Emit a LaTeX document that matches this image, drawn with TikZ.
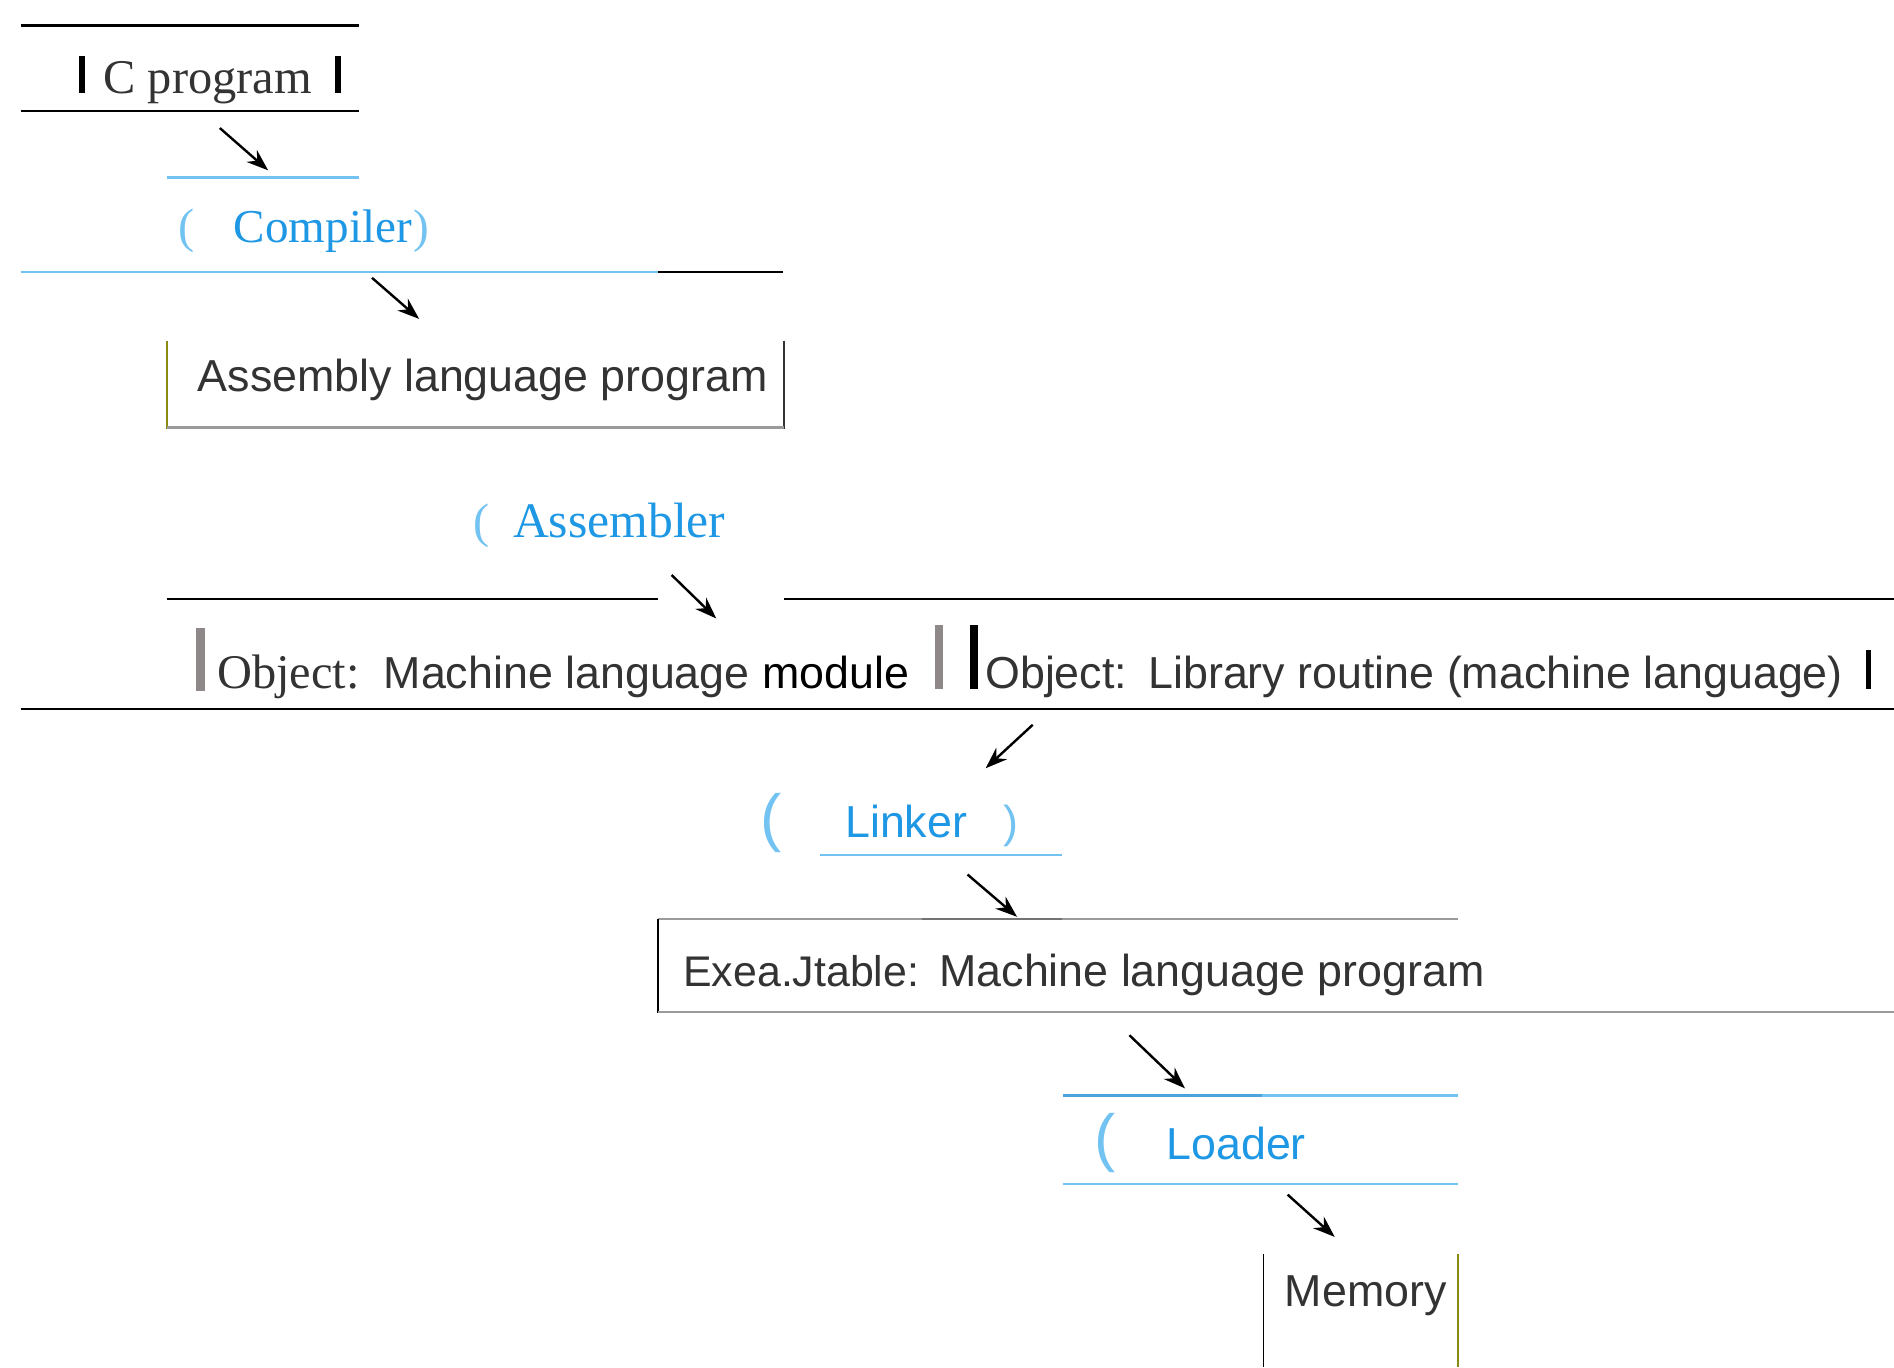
\documentclass[tikz,border=0pt]{standalone}
\usepackage{fontspec}
\setmainfont{Liberation Serif}
\setsansfont{Liberation Sans}
\usetikzlibrary{arrows.meta}
\definecolor{txt}{HTML}{333333}
\definecolor{bluetxt}{HTML}{1E98E4}
\definecolor{lblue}{HTML}{72C2F2}
\definecolor{dblue}{HTML}{4FA3DC}
\definecolor{olivec}{HTML}{8A8A10}
\definecolor{barg}{HTML}{8E8888}
\definecolor{boxg}{HTML}{9A9A9A}
\tikzset{
  sf/.style={inner sep=0pt, anchor=base west, text=txt, font=\fontsize{10.55}{12}\selectfont\sffamily},
  rm/.style={inner sep=0pt, anchor=base west, text=txt, font=\fontsize{11.4}{13}\selectfont\rmfamily},
  blrm/.style={rm, text=bluetxt},
  blsf/.style={sf, text=bluetxt},
  parenrm/.style={inner sep=0pt, anchor=base west, text=lblue, font=\fontsize{11.4}{13}\selectfont\rmfamily},
  parensf/.style={inner sep=0pt, anchor=base west, text=lblue, font=\fontsize{10.55}{12}\selectfont\sffamily},
  bigparen/.style={inner sep=0pt, anchor=base west, text=lblue, font=\fontsize{15}{18}\selectfont\sffamily},
  rulel/.style={line width=0.2mm},
  thinl/.style={line width=0.15mm},
  arr/.style={line width=0.2mm, -{Stealth[length=1.8mm,width=1.3mm]}},
}
\begin{document}
\begin{tikzpicture}[x=0.1mm,y=-0.1mm]
\useasboundingbox[fill=white] (0,0) rectangle (1568,1132);

% C program
\draw[rulel] (17,21) -- (297,21);
\fill[black] (65,46) rectangle (70,77);
\node[rm] (cprog) at (85,77) {C program};
\fill[black] (277,46) rectangle (282,77);
\draw[rulel] (17,92) -- (297,92);
\coordinate (a1s) at (182,106); \coordinate (a1e) at (222,141);
\draw[arr] (a1s) -- (a1e);

% Compiler
\draw[rulel, lblue] (138,147) -- (297,147);
\node[parenrm] (cpl) at (147,201) {(};
\node[blrm, font=\fontsize{11.1}{13}\selectfont\rmfamily] (comp) at (193,201) {Compiler};
\node[parenrm, font=\fontsize{11.1}{13}\selectfont\rmfamily] (cpr) at (comp.base east) {)};
\draw[rulel, lblue] (17,225) -- (545,225);
\draw[rulel] (545,225) -- (648,225);
\coordinate (a2s) at (308,230); \coordinate (a2e) at (347,264);
\draw[arr] (a2s) -- (a2e);

% Assembly language program
\draw[thinl, olivec] (138,282) -- (138,355);
\draw[thinl, txt] (649,282) -- (649,355);
\draw[rulel, boxg] (138,354) -- (649,354);
\node[sf] (asm) at (163,324) {Assembly language program};

% Assembler
\node[parenrm] (apl) at (391,445) {(};
\node[blrm, font=\fontsize{11.7}{13}\selectfont\rmfamily] (assembler) at (424,445) {Assembler};
\draw[rulel] (138,496) -- (545,496);
\draw[rulel] (649,496) -- (1568,496);
\coordinate (a3s) at (556,476); \coordinate (a3e) at (593,512);
\draw[arr] (a3s) -- (a3e);

% Object modules
\fill[barg] (162,520) rectangle (170,572);
\node[rm] (obj1) at (179,570) {Object:};
\node[sf] (mlm) at (317,570) {Machine language \textcolor{black}{module}};
\fill[barg] (774,517) rectangle (781,570);
\fill[black] (803,517) rectangle (810,570);
\node[sf] (obj2) at (815,570) {Object:};
\node[sf] (lib) at (950,570) {Library routine (machine language)};
\fill[black] (1545,538) rectangle (1549,570);
\draw[rulel] (17,587) -- (1568,587);
\coordinate (a4s) at (855,600); \coordinate (a4e) at (816,636);
\draw[arr] (a4s) -- (a4e);

% Linker
\node[bigparen] (lpl) at (629,695) {(};
\node[blsf] (linker) at (699,693) {Linker};
\node[parensf] (lpr) at (830,693) {)};
\draw[rulel, lblue] (679,708) -- (879,708);
\coordinate (a5s) at (801,724); \coordinate (a5e) at (842,759);
\draw[arr] (a5s) -- (a5e);

% Executable
\draw[rulel, boxg] (545,761) -- (1207,761);
\draw[rulel, black!55] (763,761) -- (879,761);
\draw[thinl] (545,761) -- (545,839);
\draw[rulel, boxg] (545,838) -- (1568,838);
\node[sf, font=\fontsize{10.1}{12}\selectfont\sffamily] (exe) at (565,817) {Exea.Jtable:};
\node[sf] (mlp) at (777,817) {Machine language program};
\coordinate (a6s) at (935,857); \coordinate (a6e) at (981,901);
\draw[arr] (a6s) -- (a6e);

% Loader
\draw[rulel, lblue] (880,907) -- (1207,907);
\draw[rulel, dblue] (880,907) -- (1045,907);
\node[bigparen] (ldp) at (905,960) {(};
\node[blsf] (loader) at (965,960) {Loader};
\draw[rulel, lblue] (880,980) -- (1207,980);
\coordinate (a7s) at (1066,989); \coordinate (a7e) at (1105,1024);
\draw[arr] (a7s) -- (a7e);

% Memory
\draw[thinl] (1046,1038) -- (1046,1132);
\draw[thinl, olivec] (1207,1038) -- (1207,1132);
\node[sf] (mem) at (1063,1082) {Memory};
\end{tikzpicture}
\end{document}
